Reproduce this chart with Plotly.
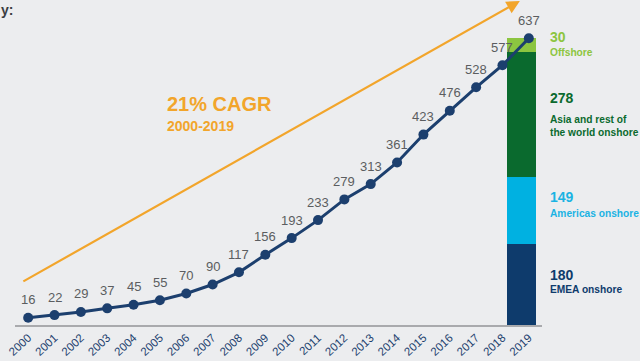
import plotly.graph_objects as go

years = list(range(2000, 2020))
capacity = [16, 22, 29, 37, 45, 55, 70, 90, 117, 156, 193, 233, 279, 313, 361, 423, 476, 528, 577, 637]
tick_labels = [str(y) for y in years]

seg_names = ["EMEA onshore", "Americas onshore", "Asia and rest of<br>the world onshore", "Offshore"]
seg_values = [180, 149, 278, 30]
seg_colors = ["#0E3B6C", "#00B1E1", "#0A6A2E", "#8CC540"]
seg_label_colors = ["#0E3B6C", "#1BB3E3", "#0A6A2E", "#8CC540"]

BG = "#ECEDEF"
NAVY = "#1C3F6E"
ORANGE = "#F2A52B"

fig = go.Figure()

for name, val, col in zip(seg_names, seg_values, seg_colors):
    fig.add_trace(go.Bar(x=[2019], y=[val], marker=dict(color=col, line=dict(width=0)),
                         width=1.085, offset=-0.81, showlegend=False, hoverinfo="skip"))

fig.add_trace(go.Scatter(x=years, y=capacity, mode="lines+markers",
                         line=dict(color=NAVY, width=3),
                         marker=dict(color=NAVY, size=10), showlegend=False))

annotations = []
for x, v in zip(years, capacity):
    annotations.append(dict(x=x, y=v, text=str(v), showarrow=False, yshift=18,
                            font=dict(family="Liberation Sans", size=13, color="#5B5D60")))

# CAGR arrow
annotations.append(dict(x=2018.66, y=720, ax=1999.76, ay=95, xref="x", yref="y", axref="x", ayref="y",
                        showarrow=True, arrowhead=2, arrowsize=1.2, arrowwidth=2.2, arrowcolor=ORANGE, text=""))
annotations.append(dict(x=2005.2, y=491, xref="x", yref="y", text="<b>21% CAGR</b>", showarrow=False,
                        xanchor="left", font=dict(family="Liberation Sans", size=20, color=ORANGE)))
annotations.append(dict(x=2005.2, y=443, xref="x", yref="y", text="<b>2000-2019</b>", showarrow=False,
                        xanchor="left", font=dict(family="Liberation Sans", size=14, color=ORANGE)))

# segment labels (right side)
pos = [(275, 288), (197, 212), (98, 118), (37, 51)]
H = 325.0
for (vy, ly), name, val, col in zip(pos, seg_names, seg_values, seg_label_colors):
    annotations.append(dict(x=1.0115, y=1 - vy / H, xref="paper", yref="paper", xanchor="left", yanchor="middle",
                            text="<b>%d</b>" % val, showarrow=False,
                            font=dict(family="Liberation Sans", size=14, color=col)))
    annotations.append(dict(x=1.0115, y=1 - (ly - 6) / H, xref="paper", yref="paper", xanchor="left", yanchor="top",
                            text="<b>%s</b>" % name, showarrow=False, align="left",
                            font=dict(family="Liberation Sans", size=10.2, color=col)))

annotations.append(dict(x=-0.03, y=1.0, xref="paper", yref="paper", xanchor="left", yanchor="top",
                        text="<b>y:</b>", showarrow=False,
                        font=dict(family="Liberation Sans", size=14, color="#3A3D42")))

fig.update_layout(
    width=640, height=361,
    margin=dict(l=15, r=98, t=0, b=36),
    paper_bgcolor=BG, plot_bgcolor=BG,
    barmode="stack", bargap=0,
    showlegend=False,
    annotations=annotations,
    xaxis=dict(range=[1999.5, 2019.5], tickvals=years, ticktext=tick_labels, tickangle=-43,
               showgrid=False, zeroline=False, showline=True, linecolor="#A9AAAD", linewidth=1.5,
               ticks="", automargin=False, tickfont=dict(family="Liberation Sans", size=11.5, color=NAVY)),
    yaxis=dict(range=[0, 722], visible=False, showgrid=False, zeroline=False),
)

fig.write_html("out.html", config={"displayModeBar": False},
               post_script="document.body.style.margin='0';document.body.style.background='%s';" % BG)
